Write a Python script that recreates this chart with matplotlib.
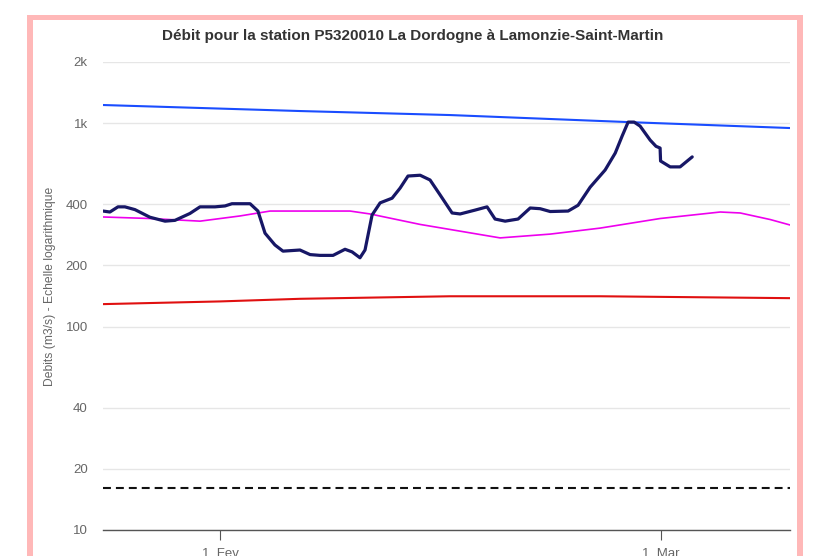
import matplotlib.pyplot as plt
from matplotlib.patches import Rectangle
from matplotlib.ticker import FixedLocator, NullLocator

# days counted from 1 Feb (0 = 1 Fev, 28 = 1 Mar)
obs_day = [-7.43, -6.99, -6.48, -6.04, -5.40, -4.45, -3.49, -2.86, -1.91, -1.27,
           -0.32, 0.32, 0.76, 1.91, 2.41, 2.86, 3.49, 4.00, 5.08, 5.72,
           6.35, 7.18, 7.94, 8.39, 8.89, 9.21, 9.66, 10.17, 10.93, 11.44,
           11.94, 12.71, 13.34, 13.98, 14.74, 15.25, 16.20, 16.96, 17.47, 18.11,
           18.93, 19.70, 20.33, 20.97, 22.11, 22.74, 23.51, 24.46, 25.10, 25.54,
           25.92, 26.30, 26.68, 27.32, 27.69, 27.95, 27.98, 28.59, 29.22, 29.99]
obs_q = [370, 366, 388, 388, 376, 345, 330, 333, 360, 388,
         388, 392, 402, 402, 370, 288, 252, 235, 238, 226,
         224, 224, 240, 233, 218, 238, 354, 406, 428, 480,
         550, 555, 526, 444, 362, 358, 374, 388, 338, 330,
         338, 383, 380, 368, 370, 395, 485, 589, 713, 865,
         1013, 1013, 968, 826, 770, 755, 652, 610, 610, 683]

high_day = [-7.43, 5.08, 14.61, 25.92, 36.2]
high_q = [1229, 1148, 1097, 1013, 947]

low_day = [-7.43, 0.0, 5.08, 14.61, 24.14, 36.2]
low_q = [129, 133, 137, 141, 141, 138]

mean_day = [-7.43, -4.45, -1.27, 1.27, 3.18, 8.26, 9.53, 12.71, 17.79, 20.97,
            24.14, 27.95, 31.77, 33.04, 34.95, 36.2]
mean_q = [346, 340, 330, 350, 370, 370, 358, 318, 273, 285,
          305, 340, 366, 362, 336, 316]

alert_day = [-7.43, 36.2]
alert_q = [16.1, 16.1]

yticks = [10, 20, 40, 100, 200, 400, 1000, 2000]
ylabels = ['10', '20', '40', '100', '200', '400', '1k', '2k']
xticks = [0, 28]
xlabels = ['1. Fev', '1. Mar']

W, H = 814, 556
fig = plt.figure(figsize=(W / 100, H / 100), dpi=100)
plt.rcParams['font.family'] = ['Liberation Sans', 'DejaVu Sans']


def px_rect(x0, y0, x1, y1, color):
    fig.add_artist(Rectangle((x0 / W, 1 - y1 / H), (x1 - x0) / W, (y1 - y0) / H,
                             transform=fig.transFigure, color=color, lw=0, zorder=0))


pink = '#ffb8b8'
px_rect(27, 15, 803, 19.5, pink)
px_rect(27, 15, 33, 556, pink)
px_rect(797, 15, 803, 556, pink)

ax = fig.add_axes([103 / W, (H - 530) / H, (790 - 103) / W, (530 - 62) / H])
ax.set_yscale('log')
ax.set_ylim(10, 2000)
ax.set_xlim(-7.43, 36.2)

ax.plot(high_day, high_q, color='#1a4dff', lw=1.5, zorder=3)
ax.plot(low_day, low_q, color='#e01010', lw=1.5, zorder=3)
ax.plot(mean_day, mean_q, color='#ee00ee', lw=1.2, zorder=3)
ax.plot(alert_day, alert_q, color='#111111', lw=1.5, dashes=(3.8, 2.4), zorder=3)
ax.plot(obs_day, obs_q, color='#171766', lw=2.3, solid_joinstyle='round',
        solid_capstyle='round', zorder=4)

ax.yaxis.set_major_locator(FixedLocator(yticks))
ax.yaxis.set_minor_locator(NullLocator())
ax.set_yticklabels(ylabels)
ax.set_xticks(xticks)
ax.set_xticklabels(xlabels)
ax.grid(axis='y', color='#e6e6e6', lw=1)
ax.set_axisbelow(True)

for s in ['top', 'right', 'left']:
    ax.spines[s].set_visible(False)
ax.spines['bottom'].set_color('#555555')
ax.spines['bottom'].set_linewidth(1)
ax.tick_params(axis='y', length=0, pad=11, labelsize=9.5, labelcolor='#666666')
ax.tick_params(axis='x', length=7, width=0.8, color='#555555', pad=6,
               labelsize=9.5, labelcolor='#666666')

ax.set_ylabel('Debits (m3/s) - Echelle logarithmique', fontsize=8.7, color='#666666')
ax.yaxis.set_label_coords((56 - 103) / (790 - 103), 0.52)

fig.text(413 / W, 1 - 36 / H, 'Débit pour la station P5320010 La Dordogne à Lamonzie-Saint-Martin',
         ha='center', va='center', fontsize=11, fontweight='bold', color='#333333')

fig.savefig('out.png', dpi=100)
